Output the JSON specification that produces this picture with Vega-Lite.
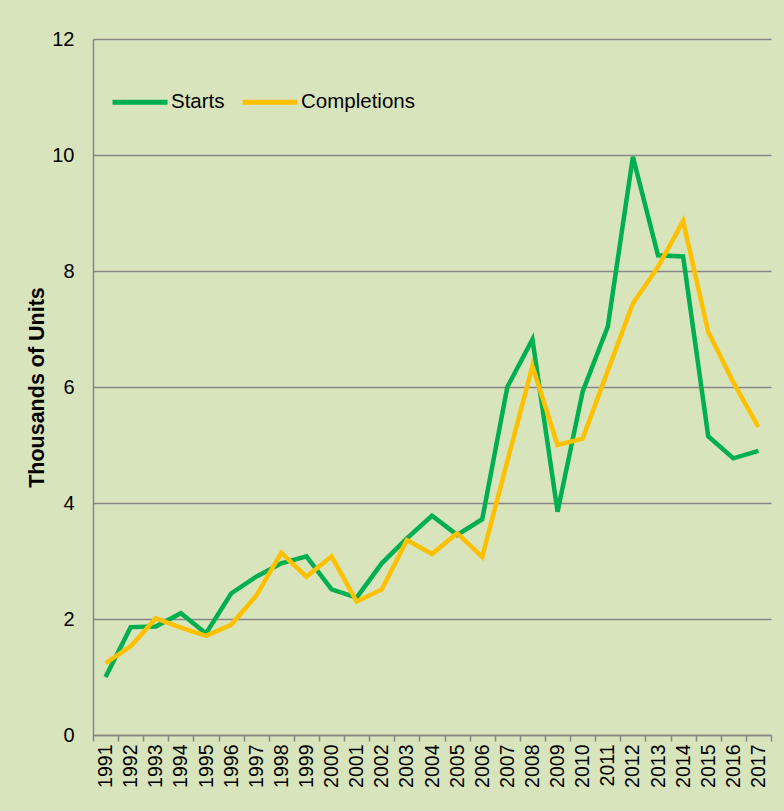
{
  "$schema": "https://vega.github.io/schema/vega-lite/v6.json",
  "autosize": "none",
  "width": 678,
  "height": 696,
  "padding": {"left": 93, "top": 39, "right": 13, "bottom": 76},
  "background": "#D8E4BC",
  "config": {
    "view": {"stroke": null},
    "font": "Liberation Sans"
  },
  "data": {
    "values": [
      {"year": "1991", "series": "Starts", "value": 1.00},
      {"year": "1992", "series": "Starts", "value": 1.86},
      {"year": "1993", "series": "Starts", "value": 1.87},
      {"year": "1994", "series": "Starts", "value": 2.10},
      {"year": "1995", "series": "Starts", "value": 1.75},
      {"year": "1996", "series": "Starts", "value": 2.44},
      {"year": "1997", "series": "Starts", "value": 2.73},
      {"year": "1998", "series": "Starts", "value": 2.96},
      {"year": "1999", "series": "Starts", "value": 3.08},
      {"year": "2000", "series": "Starts", "value": 2.51},
      {"year": "2001", "series": "Starts", "value": 2.37},
      {"year": "2002", "series": "Starts", "value": 2.96},
      {"year": "2003", "series": "Starts", "value": 3.39},
      {"year": "2004", "series": "Starts", "value": 3.78},
      {"year": "2005", "series": "Starts", "value": 3.45},
      {"year": "2006", "series": "Starts", "value": 3.72},
      {"year": "2007", "series": "Starts", "value": 6.00},
      {"year": "2008", "series": "Starts", "value": 6.82},
      {"year": "2009", "series": "Starts", "value": 3.85},
      {"year": "2010", "series": "Starts", "value": 5.92},
      {"year": "2011", "series": "Starts", "value": 7.04},
      {"year": "2012", "series": "Starts", "value": 9.97},
      {"year": "2013", "series": "Starts", "value": 8.27},
      {"year": "2014", "series": "Starts", "value": 8.25},
      {"year": "2015", "series": "Starts", "value": 5.15},
      {"year": "2016", "series": "Starts", "value": 4.77},
      {"year": "2017", "series": "Starts", "value": 4.90},
      {"year": "1991", "series": "Completions", "value": 1.24},
      {"year": "1992", "series": "Completions", "value": 1.53},
      {"year": "1993", "series": "Completions", "value": 2.01},
      {"year": "1994", "series": "Completions", "value": 1.85},
      {"year": "1995", "series": "Completions", "value": 1.71},
      {"year": "1996", "series": "Completions", "value": 1.90},
      {"year": "1997", "series": "Completions", "value": 2.40},
      {"year": "1998", "series": "Completions", "value": 3.14},
      {"year": "1999", "series": "Completions", "value": 2.73},
      {"year": "2000", "series": "Completions", "value": 3.08},
      {"year": "2001", "series": "Completions", "value": 2.30},
      {"year": "2002", "series": "Completions", "value": 2.51},
      {"year": "2003", "series": "Completions", "value": 3.36},
      {"year": "2004", "series": "Completions", "value": 3.12},
      {"year": "2005", "series": "Completions", "value": 3.48},
      {"year": "2006", "series": "Completions", "value": 3.07},
      {"year": "2007", "series": "Completions", "value": 4.72},
      {"year": "2008", "series": "Completions", "value": 6.36},
      {"year": "2009", "series": "Completions", "value": 5.00},
      {"year": "2010", "series": "Completions", "value": 5.11},
      {"year": "2011", "series": "Completions", "value": 6.28},
      {"year": "2012", "series": "Completions", "value": 7.44},
      {"year": "2013", "series": "Completions", "value": 8.07},
      {"year": "2014", "series": "Completions", "value": 8.86},
      {"year": "2015", "series": "Completions", "value": 6.95},
      {"year": "2016", "series": "Completions", "value": 6.08},
      {"year": "2017", "series": "Completions", "value": 5.31}
    ]
  },
  "mark": {"type": "line", "strokeWidth": 4.5, "strokeJoin": "miter", "strokeCap": "butt"},
  "encoding": {
    "x": {
      "field": "year",
      "type": "ordinal",
      "bandPosition": 0.5,
      "scale": {"type": "band", "paddingInner": 0, "paddingOuter": 0},
      "axis": {
        "title": null,
        "labelAngle": -90,
        "labelFontSize": 19.5,
        "labelColor": "#000000",
        "labelPadding": 3,
        "tickBand": "extent",
        "tickSize": 6,
        "tickColor": "#868686",
        "tickWidth": 1.5,
        "domainColor": "#868686",
        "domainWidth": 1.5,
        "grid": false
      }
    },
    "y": {
      "field": "value",
      "type": "quantitative",
      "scale": {"domain": [0, 12], "nice": false},
      "axis": {
        "title": "Thousands of Units",
        "titleFontSize": 21.5,
        "titleFontWeight": "bold",
        "titleColor": "#000000",
        "titlePadding": 3,
        "values": [0, 2, 4, 6, 8, 10, 12],
        "labelFontSize": 20,
        "labelColor": "#000000",
        "labelPadding": 19,
        "ticks": false,
        "grid": true,
        "gridColor": "#868686",
        "gridWidth": 1.5,
        "domainColor": "#868686",
        "domainWidth": 1.5
      }
    },
    "color": {
      "field": "series",
      "type": "nominal",
      "scale": {"domain": ["Starts", "Completions"], "range": ["#00B050", "#FFC000"]},
      "legend": {
        "title": null,
        "orient": "none",
        "direction": "horizontal",
        "legendX": 17,
        "legendY": 33,
        "symbolType": "stroke",
        "symbolSize": 3025,
        "symbolStrokeWidth": 5,
        "labelFontSize": 20.5,
        "labelColor": "#000000",
        "labelOffset": 1,
        "columnPadding": 7
      }
    }
  }
}
